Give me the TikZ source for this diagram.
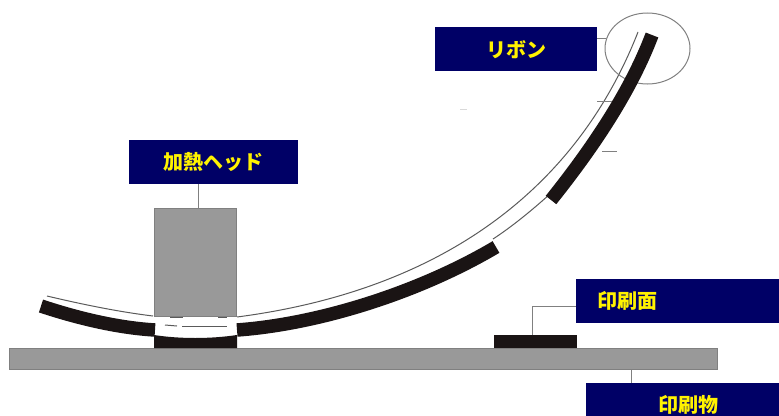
\documentclass[tikz,border=0pt]{standalone}
\usepackage{fontspec}
\newfontfamily\cjk{Noto Sans CJK JP}
\usetikzlibrary{positioning,shapes.geometric}
\definecolor{boxnavy}{HTML}{000066}
\definecolor{partgray}{HTML}{999999}
\definecolor{bandblack}{HTML}{1A1414}
\definecolor{leadgray}{HTML}{808080}
\tikzset{
    labelbox/.style={fill=boxnavy, text=yellow, font=\cjk\bfseries\fontsize{20}{21}\selectfont, align=left, anchor=north west, minimum height=44pt, inner ysep=0pt},
    part/.style={fill=partgray, draw=leadgray, line width=0.8pt},
    band/.style={draw=bandblack, line width=13.5pt},
    film/.style={draw=leadgray!70!black, line width=1pt},
    lead/.style={draw=leadgray, line width=1pt}
}
\begin{document}
\begin{tikzpicture}[x=1pt,y=-1pt]
    \clip (0, 0) rectangle (779, 415);

    % Printed object and head
    \node[part, minimum width=708pt, minimum height=21pt, inner sep=0pt, anchor=north west] (sheet) at (9, 348) {};
    \node[part, minimum width=82pt, minimum height=108pt, inner sep=0pt, anchor=north west] (head) at (154, 208) {};
    \node[fill=bandblack, minimum width=83pt, minimum height=13pt, inner sep=0pt, anchor=north west] (printface) at (494, 335) {};

    % Ribbon, upper film
    \draw[film] (47, 296) .. controls (85, 305) and (120, 312) .. (153, 316);
    \draw[film] (237, 317) .. controls (437, 291) and (575, 193) .. (638, 32);
    \draw[film] (170, 317) -- (183, 317);
    \draw[film] (218, 317) -- (227, 317);

    % Ribbon, lower film in the gaps
    \draw[film] (165, 325) -- (177, 326);
    \draw[film] (182, 326) -- (227, 326);
    \draw[film] (493, 239) .. controls (510, 228) and (530, 212) .. (550, 194);

    % Circle round the ribbon end
    \node[draw=leadgray, line width=1pt, ellipse, minimum width=85pt, minimum height=71pt, inner sep=0pt] (ribbonend) at (647.5, 48.5) {};

    % Ink layer
    \draw[band] (41, 306) .. controls (80, 319) and (120, 328) .. (155, 330);
    \draw[band] (237, 330) .. controls (320, 324) and (420, 292) .. (496, 247);
    \draw[band] (551, 200) .. controls (591, 150) and (630, 93) .. (652, 35);
    \fill[bandblack] (154, 335) .. controls (180, 339) and (210, 339) .. (237, 335) -- (237, 348) -- (154, 348) -- cycle;

    % Labels
    \node[labelbox, minimum width=162pt, inner xsep=0pt, text width=162pt, align=center] (ribbon) at (435, 27) {リボン};
    \node[labelbox, inner xsep=34pt, text width=101pt] (heating) at (129, 140) {加熱ヘッド};
    \node[labelbox, inner xsep=21pt, text width=161pt] (surface) at (576, 279) {印刷面};
    \node[labelbox, inner xsep=72pt, text width=62pt] (medium) at (586, 383) {印刷物};

    % Leader lines
    \draw[lead] (heating.south -| 198, 0) -- (head.north -| 198, 0);
    \draw[lead] (ribbon.east |- 0, 38) -- (606, 38);
    \draw[lead] (surface.west |- 0, 306) -| (printface.north -| 532, 0);
    \draw[lead] (sheet.south -| 631, 0) -- (medium.north -| 631, 0);
    \draw[lead] (597, 101) -- (612, 101);
    \draw[lead] (602, 151) -- (617, 151);
    \draw[gray!30] (460, 109) -- (467, 109);
\end{tikzpicture}
\end{document}
